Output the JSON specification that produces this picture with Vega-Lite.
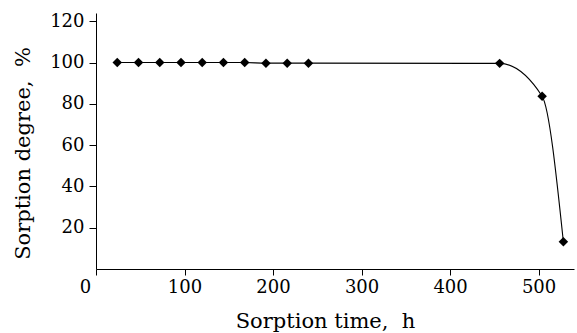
{
  "$schema": "https://vega.github.io/schema/vega-lite/v6.json",
  "autosize": "none",
  "width": 478,
  "height": 256,
  "padding": {"left": 96, "top": 13, "right": 3, "bottom": 64},
  "background": "white",
  "config": {"view": {"stroke": null}},
  "data": {"values": [
    {"t": 24, "d": 100},
    {"t": 48, "d": 100},
    {"t": 72, "d": 100},
    {"t": 96, "d": 100},
    {"t": 120, "d": 100},
    {"t": 144, "d": 100},
    {"t": 168, "d": 100},
    {"t": 192, "d": 99.7},
    {"t": 216, "d": 99.7},
    {"t": 240, "d": 99.7},
    {"t": 456, "d": 99.6},
    {"t": 504, "d": 83.7},
    {"t": 528, "d": 13.2}
  ]},
  "encoding": {
    "x": {"field": "t", "type": "quantitative",
      "scale": {"domain": [0, 540], "nice": false, "zero": false},
      "axis": {"values": [0, 100, 200, 300, 400, 500], "title": "Sorption time, \u00a0h", "grid": false,
        "domainColor": "black", "tickColor": "black", "tickSize": 6, "labelPadding": 3, "labelFlush": false,
        "labelFont": "DejaVu Serif", "labelFontSize": 18, "labelColor": "black",
        "labelOffset": {"condition": {"test": "datum.value == 0", "value": -11}, "value": 0},
        "titleFont": "DejaVu Serif", "titleFontSize": 21, "titleFontWeight": "normal", "titleColor": "black",
        "titleX": 229, "titleY": 58, "titleBaseline": "alphabetic"}},
    "y": {"field": "d", "type": "quantitative",
      "scale": {"domain": [0, 124], "nice": false},
      "axis": {"values": [20, 40, 60, 80, 100, 120], "title": "Sorption degree, \u00a0%", "grid": false,
        "domainColor": "black", "tickColor": "black", "tickSize": 7, "labelPadding": 5, "labelFlush": false,
        "labelFont": "DejaVu Serif", "labelFontSize": 18, "labelColor": "black",
        "titleFont": "DejaVu Serif", "titleFontSize": 21, "titleFontWeight": "normal", "titleColor": "black",
        "titleX": -67, "titleY": 140, "titleBaseline": "alphabetic", "titleAngle": -90}}
  },
  "layer": [
    {"mark": {"type": "line", "interpolate": "monotone", "color": "black", "strokeWidth": 1.1}},
    {"mark": {"type": "point", "shape": "diamond", "filled": true, "color": "black", "size": 90, "opacity": 1}}
  ]
}
